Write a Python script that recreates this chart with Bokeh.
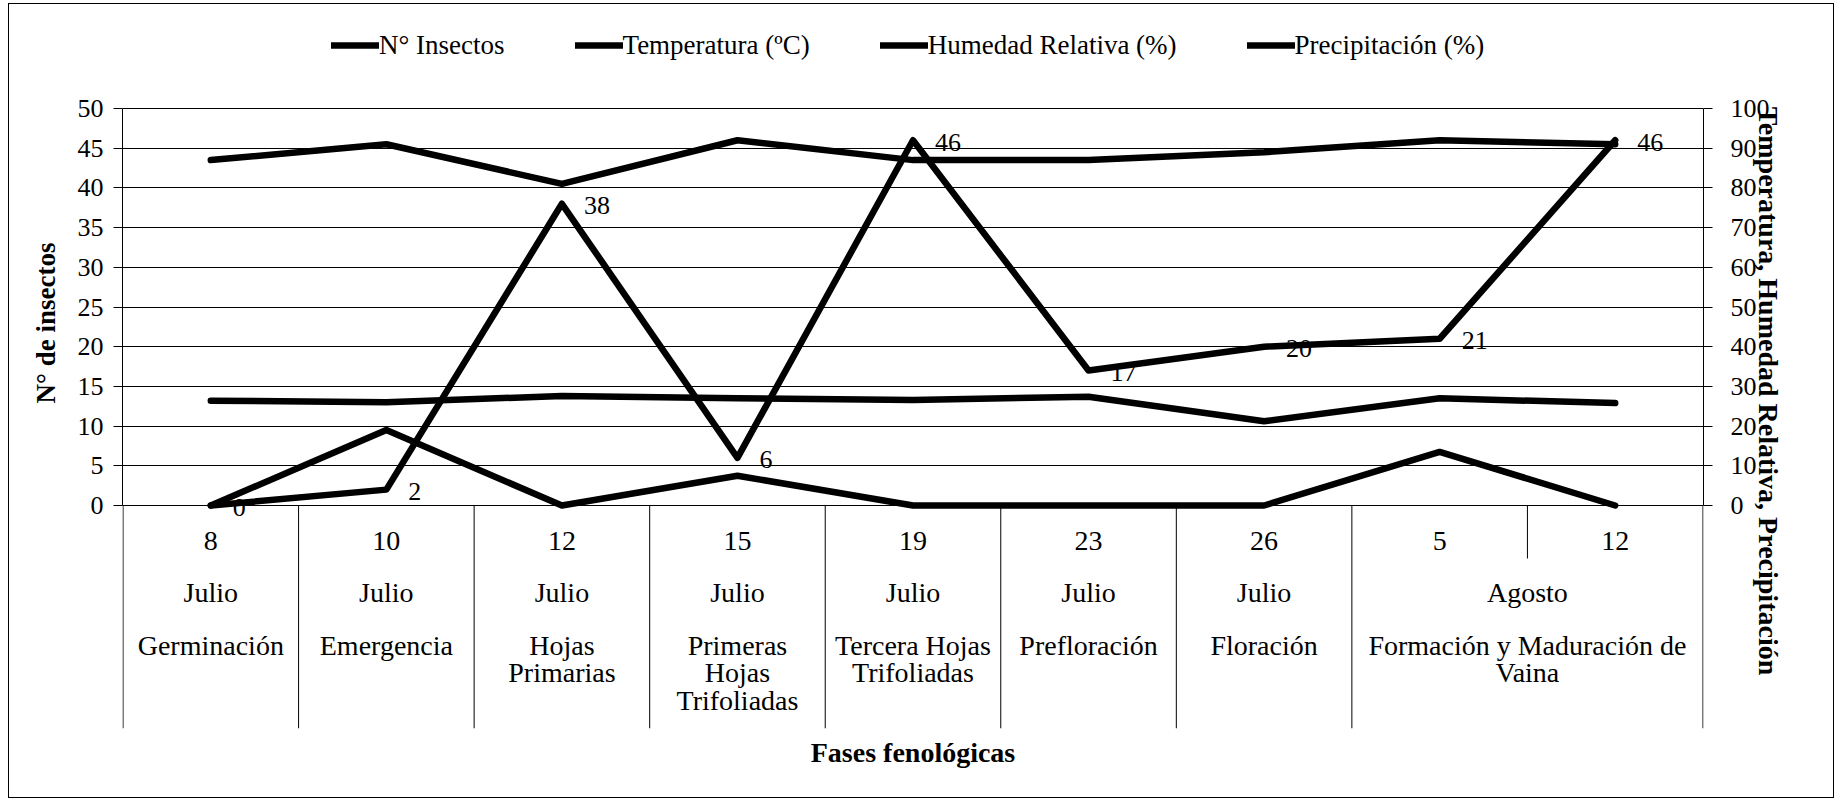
import numpy as np
from bokeh.plotting import figure
from bokeh.models import (ColumnDataSource, Range1d, LinearAxis, FixedTicker,
                          Legend, LegendItem)
from bokeh.core.properties import value
from bokeh.embed import file_html
from bokeh.resources import INLINE

# ---------------- data ----------------
days = ["8", "10", "12", "15", "19", "23", "26", "5", "12"]
months = ["Julio", "Julio", "Julio", "Julio", "Julio", "Julio", "Julio", "Agosto", "Agosto"]
phases = ["Germinación", "Emergencia", "Hojas\nPrimarias", "Primeras\nHojas\nTrifoliadas",
          "Tercera Hojas\nTrifoliadas", "Prefloración", "Floración",
          "Formación y Maduración de\nVaina", "Formación y Maduración de\nVaina"]
insects = [0, 2, 38, 6, 46, 17, 20, 21, 46]
temperature = [26.4, 26.0, 27.6, 27.0, 26.6, 27.4, 21.2, 27.0, 25.8]
humidity = [87, 91, 81, 92, 87, 87, 89, 92, 91]
precipitation = [0, 19, 0, 7.5, 0, 0, 0, 13.5, 0]
left_ticks = list(range(0, 51, 5))
right_ticks = list(range(0, 101, 10))
series_names = ["N° Insectos", "Temperatura (ºC)", "Humedad Relativa (%)", "Precipitación (%)"]
left_title = "N° de insectos"
right_title = "Temperatura, Humedad Relativa, Precipitación"
x_title = "Fases fenológicas"

FONT = "Liberation Serif"
NBSP = "\u00a0"

# ---------------- geometry (page pixels) ----------------
ORX, ORY = 9, 4                 # canvas origin on the page (margin + 1px border)
W, H = 1826, 795
FR_LEFT, FR_RIGHT, FR_TOP, FR_BOTTOM = 122, 1703, 25, 728   # frame also holds legend + table
Y0_PX, Y50_PX = 505, 108
ppu = (Y0_PX - Y50_PX) / 50.0


def yv(py):
    return (Y0_PX - py) / ppu


y_start, y_end = yv(FR_BOTTOM), yv(FR_TOP)
n = len(days)

p = figure(width=W, height=H,
           x_range=Range1d(-0.003, n + 0.003), y_range=Range1d(y_start, y_end),
           output_backend="svg", toolbar_location=None,
           min_border_left=FR_LEFT - ORX, min_border_right=ORX + W - FR_RIGHT,
           min_border_top=FR_TOP - ORY, min_border_bottom=ORY + H - FR_BOTTOM,
           outline_line_color=None, background_fill_color="white",
           border_fill_color="white")
p.styles = {"border": "1px solid black", "margin-left": "8px", "margin-top": "3px"}
p.extra_y_ranges = {"right": Range1d(y_start * 2, y_end * 2)}

# left axis (title nudged toward the plot centre with leading no-break spaces)
ya = p.yaxis[0]
ya.bounds = (0, 50)
ya.ticker = FixedTicker(ticks=left_ticks)
ya.major_tick_out = 9
ya.major_tick_in = 0
ya.minor_tick_line_color = None
ya.axis_line_color = "black"
ya.major_tick_line_color = "black"
ya.major_label_text_font = FONT
ya.major_label_text_font_size = "26px"
ya.major_label_text_color = "black"
ya.major_label_standoff = 10
ya.axis_label = NBSP * 16 + left_title
ya.axis_label_text_font = FONT
ya.axis_label_text_font_style = "bold"
ya.axis_label_text_font_size = "27px"
ya.axis_label_text_color = "black"
ya.axis_label_standoff = 14

# right axis
ra = LinearAxis(y_range_name="right", bounds=(0, 100), ticker=FixedTicker(ticks=right_ticks),
                major_tick_out=9, major_tick_in=0, minor_tick_line_color=None,
                axis_line_color="black", major_tick_line_color="black",
                major_label_text_font=FONT, major_label_text_font_size="26px",
                major_label_text_color="black", major_label_standoff=18,
                axis_label=NBSP * 4 + right_title, axis_label_text_font=FONT,
                axis_label_text_font_style="bold", axis_label_text_font_size="28px",
                axis_label_text_color="black", axis_label_standoff=-20)
p.add_layout(ra, "right")

# bottom axis (title only)
xa = p.xaxis[0]
xa.ticker = FixedTicker(ticks=[])
xa.axis_line_color = None
xa.major_tick_line_color = None
xa.minor_tick_line_color = None
xa.axis_label = x_title
xa.axis_label_text_font = FONT
xa.axis_label_text_font_style = "bold"
xa.axis_label_text_font_size = "28px"
xa.axis_label_text_color = "black"
xa.axis_label_standoff = 8

p.xgrid.visible = False
p.ygrid.ticker = FixedTicker(ticks=left_ticks)
p.ygrid.grid_line_color = "black"
p.ygrid.grid_line_width = 1

# ---------------- series ----------------
xc = [i + 0.5 for i in range(n)]
src = ColumnDataSource(dict(x=xc, insects=insects, temp=temperature, hum=humidity,
                            prec=precipitation, lab=[str(v) for v in insects]))
common = dict(source=src, line_color="black", line_width=6.5, line_join="round", line_cap="round")
r1 = p.line("x", "insects", **common)
r2 = p.line("x", "temp", y_range_name="right", **common)
r3 = p.line("x", "hum", y_range_name="right", **common)
r4 = p.line("x", "prec", y_range_name="right", **common)

p.text("x", "insects", text="lab", source=src, x_offset=22, y_offset=2,
       text_align="left", text_baseline="middle", text_color="black",
       text_font=value(FONT), text_font_size="26px")

# ---------------- category table ----------------
full_div = [i for i in range(n + 1) if i != n - 1]
p.segment(x0=full_div, y0=[0] * len(full_div), x1=full_div, y1=[y_start] * len(full_div),
          line_color="black", line_width=1)
p.segment(x0=[n - 1], y0=[0], x1=[n - 1], y1=[yv(558)], line_color="black", line_width=1)

p.text(x=xc, y=[yv(540)] * n, text=days, text_align="center", text_baseline="middle",
       text_color="black", text_font=value(FONT), text_font_size="28px")

# merge consecutive identical (month, phase) cells
groups = []
for i in range(n):
    if groups and months[i] == months[groups[-1][0]] and phases[i] == phases[groups[-1][0]]:
        groups[-1][1] = i
    else:
        groups.append([i, i])
gx = [(a + b + 1) / 2 for a, b in groups]
p.text(x=gx, y=[yv(592)] * len(groups), text=[months[a] for a, b in groups],
       text_align="center", text_baseline="middle", text_color="black",
       text_font=value(FONT), text_font_size="28px")
p.text(x=gx, y=[yv(629)] * len(groups), text=[phases[a] for a, b in groups],
       text_align="center", text_baseline="top", text_color="black", text_line_height=0.9,
       text_font=value(FONT), text_font_size="28px")

# legend inside the (tall) frame, above the gridded area
legend = Legend(items=[LegendItem(label=series_names[0], renderers=[r1]),
                       LegendItem(label=series_names[1], renderers=[r2]),
                       LegendItem(label=series_names[2], renderers=[r3]),
                       LegendItem(label=series_names[3], renderers=[r4])],
                location=(331 - FR_LEFT, FR_BOTTOM - 61), orientation="horizontal",
                spacing=70, padding=0, margin=0, glyph_width=48, glyph_height=32,
                label_height=32, label_standoff=0, label_text_font=FONT,
                label_text_font_size="27px", label_text_color="black",
                border_line_color=None, background_fill_alpha=0)
p.add_layout(legend, "center")

open("out.html", "w").write(file_html(p, INLINE))
